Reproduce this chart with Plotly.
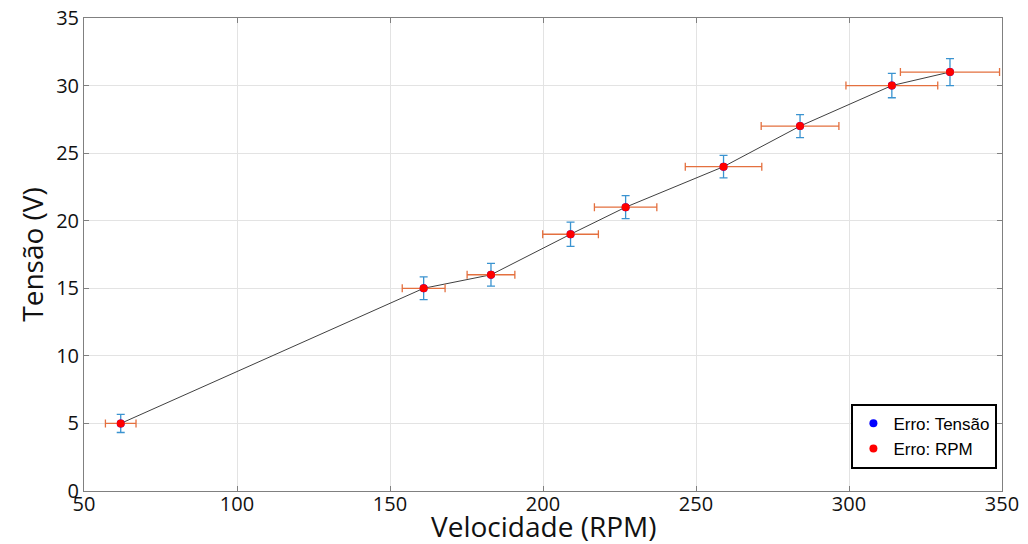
import plotly.graph_objects as go

rpm = [62, 161, 183, 209, 227, 259, 284, 314, 333]
tensao = [5, 15, 16, 19, 21, 24, 27, 30, 31]
erro_tensao = [0.67, 0.84, 0.84, 0.9, 0.85, 0.83, 0.85, 0.9, 1.0]
erro_rpm = [5.0, 7.0, 7.8, 9.1, 10.2, 12.5, 12.7, 15.0, 16.2]

fig = go.Figure()
fig.add_trace(go.Scatter(
    x=rpm, y=tensao, mode="lines", line=dict(color="#404040", width=1),
    showlegend=False, hoverinfo="skip"))
fig.add_trace(go.Scatter(
    x=rpm, y=tensao, mode="markers", name="Erro: Tensão",
    marker=dict(color="#0000ff", size=8),
    error_y=dict(type="data", array=erro_tensao, color="#3a93d0", thickness=1.3, width=4)))
fig.add_trace(go.Scatter(
    x=rpm, y=tensao, mode="markers", name="Erro: RPM",
    marker=dict(color="#ff0000", size=8),
    error_x=dict(type="data", array=erro_rpm, color="#e4703f", thickness=1.3, width=4)))

axis_common = dict(
    showline=True, linecolor="#808080", linewidth=1, mirror="ticks",
    ticks="inside", ticklen=5, tickcolor="#808080",
    showgrid=True, gridcolor="#e3e3e3", gridwidth=1, zeroline=False,
    tickfont=dict(family="Open Sans", size=20, color="#111111"),
    automargin=False, ticklabeloverflow="allow",
)

fig.update_layout(
    width=1028, height=544,
    margin=dict(l=76, r=34, t=10, b=61, autoexpand=False),
    paper_bgcolor="white", plot_bgcolor="white",
    xaxis=dict(range=[50, 350], dtick=50, ticklabelstandoff=-5, **axis_common),
    yaxis=dict(range=[0, 35], dtick=5,
               title=dict(text="Tensão (V)", standoff=4,
                          font=dict(family="Open Sans", size=28, color="#111111")),
               **axis_common),
    legend=dict(x=0.995, y=0.047, xanchor="right", yanchor="bottom",
                bgcolor="white", bordercolor="#000000", borderwidth=2,
                font=dict(family="Liberation Sans, Arial", size=17, color="#000000"),
                tracegroupgap=0, itemwidth=30),
    showlegend=True,
    annotations=[dict(text="Velocidade (RPM)", xref="paper", yref="paper",
                      x=0.5, y=0, yanchor="top", yshift=-14, showarrow=False,
                      font=dict(family="Open Sans", size=28, color="#111111"))],
)

fig.write_html("out.html")
